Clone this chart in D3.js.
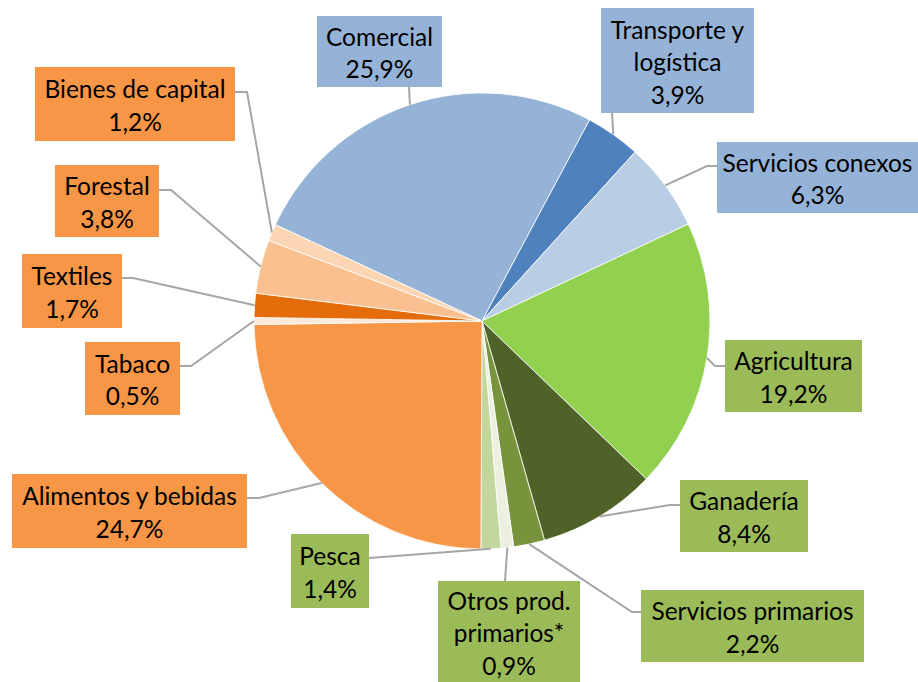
<!DOCTYPE html>
<html><head><meta charset="utf-8">
<script src="https://cdn.jsdelivr.net/npm/d3@7"></script>
<style>body{margin:0;background:#fff}svg{display:block}</style>
</head><body>
<svg id="c" width="918" height="682"></svg>
<script>
const categories = ["Comercial","Transporte y logística","Servicios conexos","Agricultura","Ganadería","Servicios primarios","Otros prod. primarios*","Pesca","Alimentos y bebidas","Tabaco","Textiles","Forestal","Bienes de capital"];
const values = [25.9,3.9,6.3,19.2,8.4,2.2,0.9,1.4,24.7,0.5,1.7,3.8,1.2];
const valueLabels = ["25,9%","3,9%","6,3%","19,2%","8,4%","2,2%","0,9%","1,4%","24,7%","0,5%","1,7%","3,8%","1,2%"];
const labelLines = [["Comercial"],["Transporte y","logística"],["Servicios conexos"],["Agricultura"],["Ganadería"],["Servicios primarios"],["Otros prod.","primarios*"],["Pesca"],["Alimentos y bebidas"],["Tabaco"],["Textiles"],["Forestal"],["Bienes de capital"]];
const groups = ["serv","serv","serv","prim","prim","prim","prim","prim","ind","ind","ind","ind","ind"];

const sliceColors = ["#95b3d7","#4f81bd","#b9cde5","#92d050","#4f6228","#77933c","#ebf1de","#c3d69b","#f79646","#fde9d9","#e46c0a","#fac090","#fcd5b5"];
const boxColors = {serv:"#95b3d7", prim:"#9bbb59", ind:"#f79646"};

// label box layout [x, y, w, h] and leader line elbow points
const boxes = [
  [317,16,125,71],[601,8,153,105],[717,142,201,71],[725,340,137,72],[680,480,128,72],
  [641,590,223,72],[438,581,142,101],[291,534,78,74],[12,474,235,74],[85,342,95,73],
  [22,254,100,74],[55,165,104,72],[35,67,200,74]
];
const elbows = [
  [[409,87]],[[612,113]],[[707,166],[717,166]],[[715,366],[725,366]],[[670,505],[680,505]],
  [[632,612],[641,612]],[[505,581]],[[369,558]],[[259,498],[247,498]],[[191,366],[180,366]],
  [[133,278],[122,278]],[[171,190],[159,190]],[[247,92],[235,92]]
];

const W=918,H=682, cx=482, cy=321, R=228;
const svg = d3.select("#c");
const g = svg.append("g").attr("transform",`translate(${cx},${cy})`);
const start = -65*Math.PI/180;
const pie = d3.pie().sort(null).value(d=>d).startAngle(start).endAngle(start+2*Math.PI);
const arcs = pie(values);
const arc = d3.arc().innerRadius(0).outerRadius(R);

g.selectAll("path.s").data(arcs).join("path").attr("class","s")
  .attr("d",arc).attr("fill",(d,i)=>sliceColors[i]).attr("stroke","#fff").attr("stroke-width",0.8);

// leader lines
arcs.forEach((a,i)=>{
  const m=(a.startAngle+a.endAngle)/2;
  const px=cx+R*Math.sin(m), py=cy-R*Math.cos(m);
  const pts=[[px,py],...elbows[i]];
  svg.append("path").attr("d",d3.line()(pts)).attr("fill","none").attr("stroke","#a6a6a6").attr("stroke-width",2);
});

// labels
const fs=24.5, lh=32.5;
boxes.forEach((b,i)=>{
  svg.append("rect").attr("x",b[0]).attr("y",b[1]).attr("width",b[2]).attr("height",b[3]).attr("fill",boxColors[groups[i]]);
  const lines=[...labelLines[i], valueLabels[i]];
  const n=lines.length;
  const mid=b[1]+b[3]/2+2;
  const t=svg.append("text").attr("text-anchor","middle").attr("font-family","Lato, 'Open Sans', sans-serif").attr("font-size",fs).attr("fill","#000");
  lines.forEach((s,k)=>{
    t.append("tspan").attr("x",b[0]+b[2]/2).attr("y",mid+(k-(n-1)/2)*lh).attr("dy","0.35em").text(s);
  });
});
</script>
</body></html>
